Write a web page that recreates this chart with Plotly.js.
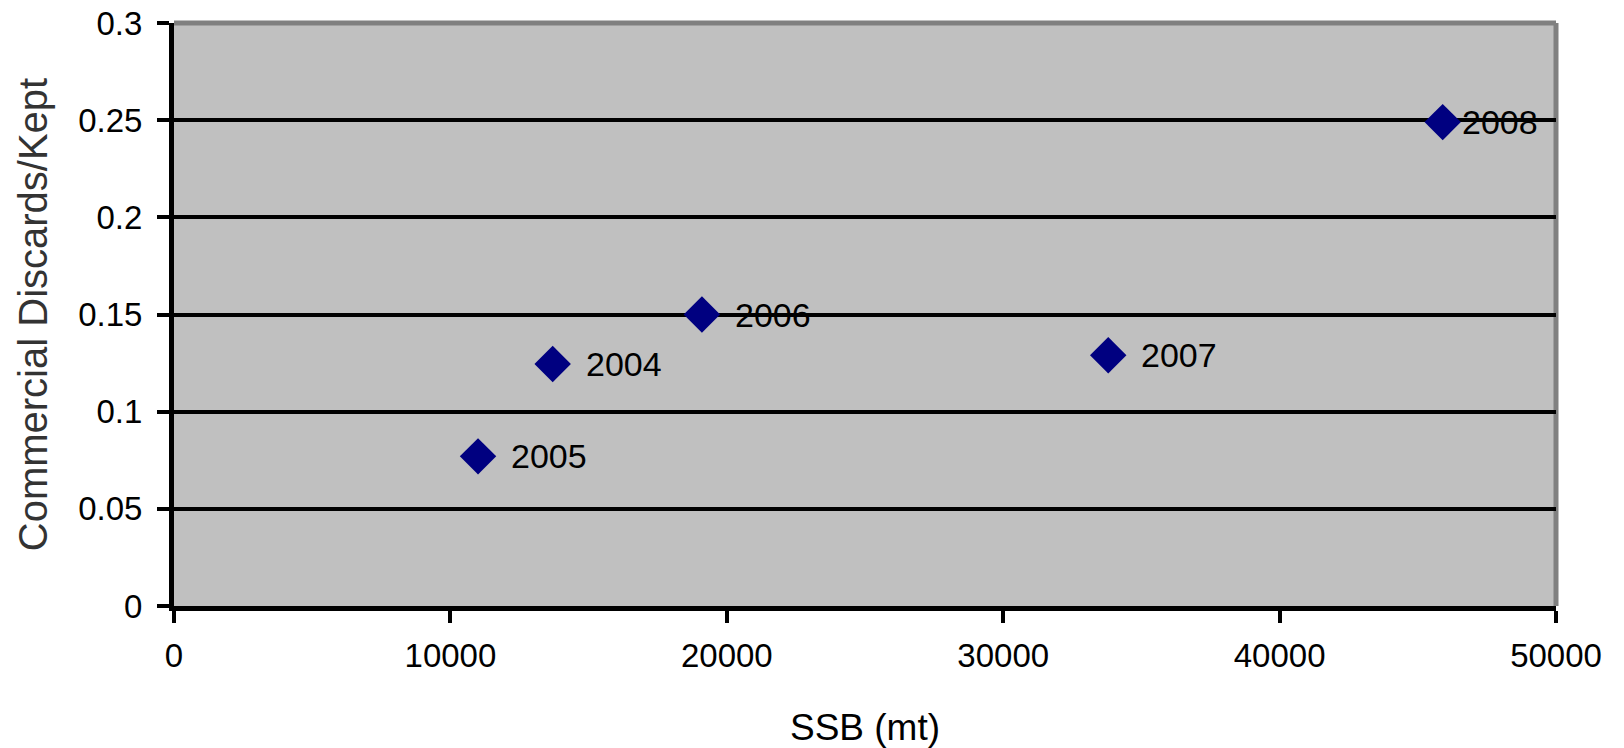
<!DOCTYPE html>
<html>
<head>
<meta charset="utf-8">
<script src="https://cdn.plot.ly/plotly-3.0.1.min.js"></script>
<style>html,body{margin:0;padding:0;background:#fff;}#chart{width:1624px;height:748px;}</style>
</head>
<body>
<div id="chart"></div>
<script>
const years = ["2004", "2005", "2006", "2007", "2008"];
const ssb = [13700, 11000, 19100, 33800, 45900];
const discardRatio = [0.1245, 0.077, 0.150, 0.129, 0.249];
const xTickVals = [0, 10000, 20000, 30000, 40000, 50000];
const yTickVals = [0, 0.05, 0.1, 0.15, 0.2, 0.25, 0.3];
const yTickText = ["0", "0.05", "0.1", "0.15", "0.2", "0.25", "0.3"];

const font = "Liberation Sans, Arial, sans-serif";
const xMax = 50000;

const trace = {
  type: "scatter",
  mode: "markers",
  x: ssb,
  y: discardRatio,
  marker: {symbol: "diamond", size: 28, color: "#000080", line: {width: 0}},
  cliponaxis: false,
  hoverinfo: "skip"
};

// data labels to the right of each point (Excel-style), pulled in near the right edge
const labels = years.map((yr, i) => ({
  x: ssb[i],
  y: discardRatio[i],
  xref: "x",
  yref: "y",
  text: yr,
  showarrow: false,
  xanchor: "left",
  yanchor: "middle",
  xshift: ssb[i] > 0.9 * xMax ? 17 : 31,
  font: {family: font, size: 34, color: "#000"}
}));

const layout = {
  width: 1624,
  height: 748,
  margin: {l: 174, r: 68, t: 23, b: 142},
  paper_bgcolor: "#ffffff",
  plot_bgcolor: "#c0c0c0",
  showlegend: false,
  font: {family: font, color: "#000"},
  xaxis: {
    range: [0, xMax],
    tickvals: xTickVals,
    ticktext: xTickVals.map(String),
    showgrid: false,
    zeroline: false,
    showline: true,
    linecolor: "#000",
    linewidth: 5,
    ticks: "outside",
    ticklen: 12,
    tickwidth: 4,
    tickcolor: "#000",
    ticklabelstandoff: 4,
    tickfont: {family: font, size: 33, color: "#000"},
    title: {text: "SSB (mt)", font: {family: font, size: 37, color: "#000"}, standoff: 47}
  },
  yaxis: {
    range: [0, 0.3],
    tickvals: yTickVals,
    ticktext: yTickText,
    showgrid: true,
    gridcolor: "#000",
    gridwidth: 4,
    zeroline: false,
    showline: true,
    linecolor: "#000",
    linewidth: 5,
    ticks: "outside",
    ticklen: 12,
    tickwidth: 4,
    tickcolor: "#000",
    ticklabelstandoff: 8,
    tickfont: {family: font, size: 33, color: "#000"},
    title: {text: "Commercial Discards/Kept", font: {family: font, size: 40, color: "#333"}, standoff: 20}
  },
  annotations: labels,
  shapes: [
    {type: "line", xref: "x domain", yref: "y domain", x0: 0, x1: 1, y0: 1, y1: 1, line: {color: "#808080", width: 5}, layer: "below"},
    {type: "line", xref: "x domain", yref: "y domain", x0: 1, x1: 1, y0: 0, y1: 1, line: {color: "#808080", width: 5}, layer: "below"}
  ]
};

Plotly.newPlot("chart", [trace], layout, {displayModeBar: false, staticPlot: true});
</script>
</body>
</html>
